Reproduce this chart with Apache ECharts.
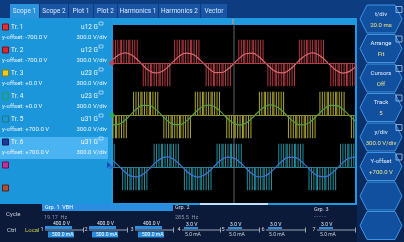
<!DOCTYPE html>
<html>
<head>
<meta charset="utf-8">
<script src="https://cdn.jsdelivr.net/npm/echarts@6/dist/echarts.min.js"></script>
<style>
html, body { margin: 0; padding: 0; background: #0b1a38; }
#main { width: 404px; height: 242px; }
</style>
</head>
<body>
<div id="main"></div>
<script>
// ---- data ----
const tabNames = ['Scope 1', 'Scope 2', 'Plot 1', 'Plot 2', 'Harmonics 1', 'Harmonics 2', 'Vector'];
const traceNames = ['Tr. 1', 'Tr. 2', 'Tr. 3', 'Tr. 4', 'Tr. 5', 'Tr. 6'];
const traceSignals = ['u12 G', 'u12 G', 'u23 G', 'u23 G', 'u31 G', 'u31 G'];
const traceOffsets = [-700, -700, 0, 0, 700, 700];   // V
const traceScales = [300, 300, 300, 300, 300, 300];  // V/div
const buttonLabels = ['t/div', 'Arrange', 'Cursors', 'Track', 'y/div', 'Y-offset', '', ''];
const buttonValues = ['20.0 ms', 'Fit', 'Off', '5', '300.0 V/div', '+700.0 V', '', ''];
const groupNames = ['Grp. 1  VBH', 'Grp. 2', 'Grp. 3'];
const groupFreqs = ['19.17  Hz', '285.5  Hz', '- - - - -'];
const rangeVolt = ['400.0 V', '400.0 V', '400.0 V', '3.0 V', '3.0 V', '3.0 V', '3.0 V'];
const rangeAmp = ['500.0 mA', '500.0 mA', '500.0 mA', '5.0 mA', '5.0 mA', '5.0 mA', '5.0 mA'];

const sampleMs = 1;        // one character per ms below
const pwmLevel = 300;      // pulse height, V
// '+' positive pulse, '-' negative pulse, '.' zero
const tr1Pwm = ['+.+.+.++.+.+.++.+.+.+', '....', '-.-.-.--.-.-.--.-.-.-.-', '...', '+.+.+.++.+.+.++.+.+.+.', '....',
  '-.-.-.--.-.-.--.-.-.-.', '....', '.+.+.++.+.+.++.+.+.+.+', '...', '-.-.-.--.-.-.--.-.-.-.-', '...',
  '+.+.+.++.+.+.++.+.+.+.', '....', '-.-.-.--.-.-.--.-.-.-'];
const tr3Pwm = ['-.--.-.-.-.-.', '....', '+.+.+.++.+.+.++.+.+.+', '....', '-.-.-.--.-.-.--.-.-.-.-', '...',
  '+.+.+.++.+.+.++.+.+.+.', '....', '-.-.-.--.-.-.--.-.-.-.', '....', '.+.+.++.+.+.++.+.+.+.+', '...',
  '-.-.-.--.-.-.--.-.-.-.-', '...', '+.+.+.++.+.+.++.+.+.+.', '....', '-.-.'];
const tr5Pwm = ['.+.', '.....', '-.-.-.--.-.-.--.-.-.-.', '....', '+.+.+.++.+.+.++.+.+.+', '....',
  '-.-.-.--.-.-.--.-.-.-.-', '...', '.+.+.++.+.+.++.+.+.+.+', '....', '-.-.-.--.-.-.--.-.-.-.', '....',
  '+.+.+.++.+.+.++.+.+.+.', '...', '-.-.-.--.-.-.--.-.-.-.-', '...', '+.+.+.++.+.+.'];

const sineTimes = [0, 5, 10, 15, 20, 25, 30, 35, 40, 45, 50, 55, 60, 65, 70, 75, 80, 85, 90, 95, 100,
  105, 110, 115, 120, 125, 130, 135, 140, 145, 150, 155, 160, 165, 170, 175, 180, 185, 190, 195, 200];
const tr2Sine = [45, 107, 130, 107, 45, -33, -99, -129, -113, -57, 21, 90, 128, 119, 68, -8, -81, -125, -123, -78, -5,
  70, 120, 127, 88, 17, -59, -115, -129, -97, -30, 48, 108, 130, 105, 42, -36, -101, -130, -112, -54];
const tr4Sine = [-128, -118, -65, 11, 83, 125, 123, 76, 2, -73, -121, -126, -86, -14, 62, 116, 129, 95, 27, -51, -110,
  -130, -103, -39, 39, 103, 130, 110, 51, -27, -95, -129, -116, -62, 14, 86, 126, 121, 73, -2, -76];
const tr6Sine = [83, 11, -65, -118, -128, -92, -24, 54, 112, 130, 101, 36, -42, -105, -130, -108, -48, 30, 97, 129, 115,
  59, -17, -88, -127, -120, -70, 5, 78, 124, 124, 81, 8, -68, -119, -128, -90, -20, 57, 113, 129];
const triggerMs = [100];

function pwmData(segments) {
  const s = segments.join('');
  const out = [];
  for (let i = 0; i < s.length; i++) {
    if (s[i] === '+') out.push([i * sampleMs, pwmLevel]);
    else if (s[i] === '-') out.push([i * sampleMs, -pwmLevel]);
  }
  return out;
}
const zip = (xs, ys) => xs.map((x, i) => [x, ys[i]]);
const fmtOffset = v => 'y-offset: ' + (v < 0 ? '-' : '+') + Math.abs(v).toFixed(1) + ' V';

// ---- screen furniture ----
const FONT = 'Roboto, "Noto Sans", sans-serif';
const g = [];
const rect = (x, y, w, h, fill, extra) => g.push(Object.assign({ type: 'rect', shape: { x, y, width: w, height: h }, style: { fill }, silent: true }, extra || {}));
const text = (x, y, t, fill, size, align, weight) => g.push({
  type: 'text', x, y, silent: true,
  style: { text: t, fill, font: (weight || 'normal') + ' ' + size + 'px ' + FONT, align: align || 'left', textAlign: align || 'left', verticalAlign: 'middle', textVerticalAlign: 'middle' }
});

rect(0, 0, 404, 242, '#0b1a38');
rect(0, 0, 404, 18, '#0d3c80');
rect(357, 0, 47, 242, '#0c3474', {
  style: { fill: new echarts.graphic.LinearGradient(0, 0, 0, 1, [{ offset: 0, color: '#0d3d82' }, { offset: 1, color: '#0a2452' }]) }
});

// tabs
const tabBoxes = [[10, 29], [40, 28], [69, 24], [94, 23], [118, 40], [159, 41], [201, 26]];
tabNames.forEach((n, i) => {
  const [x, w] = tabBoxes[i];
  rect(x, 4, w, 14, i === 0 ? '#2b93dc' : '#1a55a4');
  text(x + w / 2, 11.5, n, '#d8ebff', 6.5, 'center');
});

// left panel + strip above plot
rect(0, 18, 357, 7, '#1e9ae0');
rect(0, 18, 112, 186, '#1b96da');
rect(0, 137, 108, 22, '#4ab3f2');

const squareFill = ['#e0303a', '#d42a30', '#e8d020', '#1b96da', '#1b96da', '#1a3a9c', '#c0309a', '#a8503a'];
const squareStroke = ['#7a1010', '#7a1010', '#8a7a10', '#22a050', '#1d7a80', '#0c1e60', '#6a1050', '#5a2010'];
for (let k = 0; k < 8; k++) {
  const y = 27 + 23 * k;
  rect(2.5, y - 3, 6, 6, squareFill[k], { style: { fill: squareFill[k], stroke: squareStroke[k], lineWidth: 1 } });
  if (k < 6) {
    text(11, y, traceNames[k], '#f2f8ff', 6.5);
    text(98, y, traceSignals[k], '#f2f8ff', 6.5, 'right');
    rect(99, y - 5, 4, 3, 'none', { style: { fill: 'none', stroke: '#e8f4ff', lineWidth: 0.6 } });
    text(2, y + 10, fmtOffset(traceOffsets[k]), '#eef6ff', 6);
    text(107, y + 10, traceScales[k].toFixed(1) + ' V/div', '#eef6ff', 6, 'right');
  }
}
g.push({ type: 'polygon', silent: true, shape: { points: [[107, 162], [111, 165], [107, 168]] }, style: { fill: '#1a48a8' } });

// plot frame
rect(111, 22, 246, 183, '#1e9ae0');
rect(113, 25, 242, 178, '#000000');
rect(200, 203, 68, 2, '#bfe3ff');
rect(232, 19, 2, 5, '#8a96a6');

// right-hand buttons
const hexTops = [5, 34.5, 64, 93.5, 123, 152.5, 182, 211.5];
hexTops.forEach((t, i) => {
  const x = 360, w = 42, h = 28;
  g.push({
    type: 'polygon', silent: true,
    shape: { points: [[x, t + h / 2], [x + 7, t], [x + w - 7, t], [x + w, t + h / 2], [x + w - 7, t + h], [x + 7, t + h]] },
    style: { fill: '#11509e', stroke: '#3e93e4', lineWidth: 1 }
  });
  if (buttonLabels[i]) {
    text(381, t + 9, buttonLabels[i], '#e4eeff', 6, 'center');
    text(381, t + 20, buttonValues[i], '#efe58a', 6, 'center');
    rect(396, t + 1.5, 6, 6, 'none', { style: { fill: 'none', stroke: '#a9c9f0', lineWidth: 0.8 } });
  }
});

// bottom status area
text(6, 214, 'Cycle', '#c8d0dc', 6);
rect(42, 204, 131, 7, '#2a8ee0');
text(45, 207.5, groupNames[0], '#ffffff', 5.5);
text(175, 207.5, groupNames[1], '#d8dde8', 5.5);
text(314, 210, groupNames[2], '#d8dde8', 5.5);
text(44, 218, groupFreqs[0], '#8c96a8', 5.5);
text(175, 218, groupFreqs[1], '#8c96a8', 5.5);
text(314, 217, groupFreqs[2], '#8c96a8', 5);
text(7, 230, 'Ctrl', '#c8d0dc', 6);
text(25, 230, 'Local', '#c8c840', 6);

const sliderSpans = [[45, 83], [89, 127], [135, 173], [182, 220], [226, 259], [266, 305], [317, 355]];
sliderSpans.forEach(([a, b], i) => {
  text(a - 3, 230, String(i + 1), '#d8dde8', 5.5, 'center');
  rect(a, 229.5, b - a, 1, '#9aa4b4');
  rect(b, 227.5, 1, 5, '#9aa4b4');
  if (i < 3) {
    rect(a, 226, 27, 3, '#2a8ee0');
    rect(a + 3, 231.5, 26, 6, '#2a8ee0');
    text(a + 8, 223.5, rangeVolt[i], '#e8eef8', 5);
    text(a + 7, 234.5, rangeAmp[i], '#ffffff', 5);
  } else {
    rect(a + 2, 227, 14, 2, '#2a8ee0');
    text(a + 4, 224.5, rangeVolt[i], '#e8eef8', 5);
    text(a + 3, 235, rangeAmp[i], '#c8d0dc', 5);
  }
});

// ---- chart ----
const gridBox = (top, height) => ({ left: 113, top, width: 242, height, containLabel: false });
const xAx = i => ({ type: 'value', gridIndex: i, min: 0, max: 200, show: false });
const yAx = (i, lo, hi) => ({ type: 'value', gridIndex: i, min: lo, max: hi, show: false });

function pair(idx, pwm, sine, pwmColor, sineColor, baseColor, markColor, markSymbol) {
  return [
    { type: 'bar', xAxisIndex: idx, yAxisIndex: idx, barWidth: 1, data: pwmData(pwm),
      itemStyle: { color: pwmColor, opacity: 0.85 }, silent: true, z: 3 },
    { type: 'line', xAxisIndex: idx, yAxisIndex: idx, data: zip(sineTimes, sine), smooth: true,
      symbol: 'none', lineStyle: { color: sineColor, width: 1.2 }, silent: true, z: 4,
      markLine: { silent: true, symbol: 'none', label: { show: false },
        lineStyle: { color: baseColor, width: 1, type: 'solid' }, data: [{ yAxis: 0 }] } },
    { type: 'scatter', xAxisIndex: idx, yAxisIndex: idx, data: [[0, 0]], symbol: markSymbol,
      symbolSize: 5, symbolRotate: markSymbol === 'triangle' ? -90 : 0, symbolOffset: [-1, 0],
      itemStyle: { color: markColor }, clip: false, silent: true, z: 6 }
  ];
}

const chart = echarts.init(document.getElementById('main'));
chart.setOption({
  animation: false,
  graphic: { elements: g },
  grid: [gridBox(36, 54), gridBox(88, 54), gridBox(140, 54), gridBox(25, 178)],
  xAxis: [xAx(0), xAx(1), xAx(2), xAx(3)],
  yAxis: [yAx(0, -350, 350), yAx(1, -350, 350), yAx(2, -350, 350), yAx(3, 0, 1)],
  series: [
    ...pair(0, tr1Pwm, tr2Sine, '#d4434c', '#d86a72', '#b0404a', '#d83a40', 'circle'),
    ...pair(1, tr3Pwm, tr4Sine, '#cbc43c', '#52a04a', '#8a8a30', '#28b050', 'circle'),
    ...pair(2, tr5Pwm, tr6Sine, '#2aa9bb', '#4275d0', '#2a7f90', '#2a60d0', 'triangle'),
    { type: 'line', xAxisIndex: 3, yAxisIndex: 3, data: [[triggerMs[0], 0], [triggerMs[0], 1]],
      symbol: 'none', lineStyle: { color: '#5c6470', width: 1 }, silent: true, z: 2 }
  ]
});
</script>
</body>
</html>
